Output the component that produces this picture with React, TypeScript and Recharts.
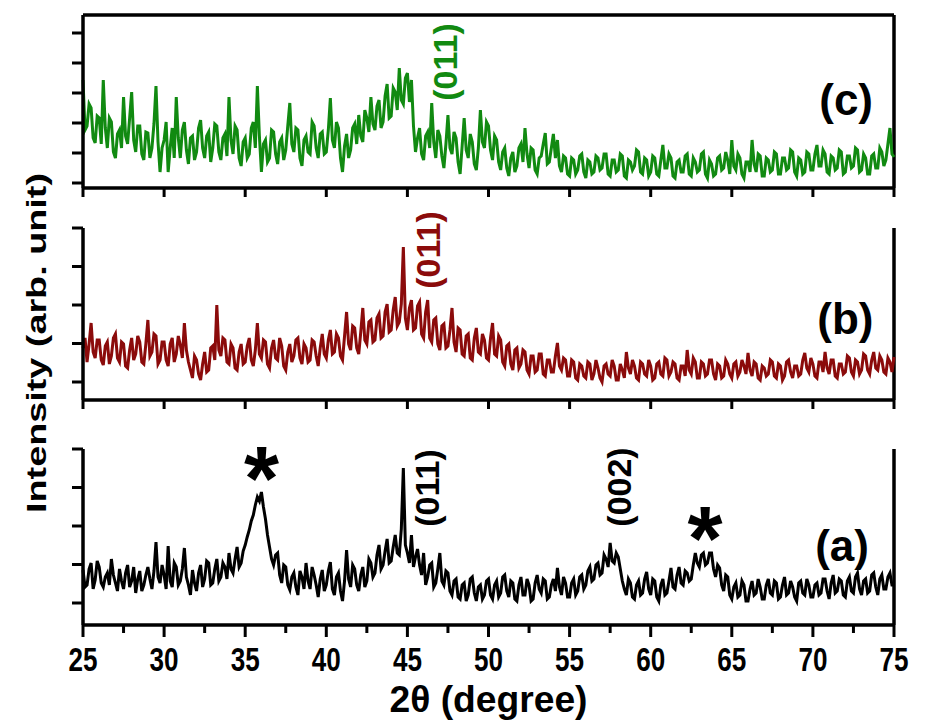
import React from "react";
import { LineChart, Line, XAxis, YAxis, ReferenceLine, ReferenceDot } from "recharts";

// XRD scan: 2θ from 25° to 75°, 0.125° step (40 points per 5° row)
const scanStart = 25;
const scanStep = 0.125;

// (a) black
const seriesA = [
  55, 38, 40, 56, 62, 36, 45, 64, 58, 42, 38, 48, 52, 40, 66, 50, 42, 34, 56, 44, 36, 52, 60, 38, 44, 58, 32, 46, 54, 34, 40, 50, 58, 46, 36, 54, 83, 48, 42, 60,
  50, 36, 79, 44, 38, 62, 58, 40, 44, 56, 77, 48, 40, 30, 55, 42, 34, 52, 60, 38, 46, 64, 62, 40, 42, 56, 66, 44, 48, 62, 58, 46, 72, 56, 52, 66, 78, 58, 62, 74,
  80, 88, 95, 104, 110, 120, 128, 124, 133, 118, 106, 90, 78, 66, 60, 70, 72, 50, 42, 60, 58, 40, 35, 48, 52, 38, 30, 54, 48, 36, 62, 44, 36, 58, 50, 40, 28, 46, 55, 34,
  40, 54, 63, 36, 30, 48, 52, 34, 24, 44, 75, 46, 38, 60, 56, 40, 34, 50, 58, 38, 44, 66, 62, 48, 52, 70, 80, 56, 60, 74, 86, 62, 64, 78, 90, 72, 70, 96, 157, 80,
  72, 62, 90, 58, 68, 76, 60, 50, 72, 40, 48, 60, 62, 38, 42, 56, 72, 44, 40, 54, 52, 34, 30, 44, 46, 28, 26, 40, 42, 24, 30, 46, 48, 32, 24, 38, 40, 26, 30, 44,
  46, 30, 26, 40, 44, 28, 32, 48, 50, 34, 28, 44, 42, 26, 24, 40, 48, 30, 30, 46, 40, 24, 26, 42, 50, 36, 32, 46, 44, 26, 28, 40, 46, 34, 57, 38, 30, 48, 42, 28,
  28, 42, 46, 30, 34, 48, 50, 36, 40, 54, 58, 44, 46, 60, 62, 50, 52, 70, 66, 58, 82, 64, 62, 72, 68, 56, 44, 36, 30, 46, 42, 28, 26, 40, 44, 30, 32, 46, 53, 36,
  30, 46, 44, 28, 24, 40, 46, 30, 32, 44, 57, 38, 36, 50, 58, 42, 40, 54, 52, 44, 46, 60, 72, 62, 58, 70, 72, 60, 62, 72, 72, 56, 48, 60, 57, 40, 34, 50, 48, 30,
  26, 38, 42, 28, 30, 44, 40, 24, 24, 36, 44, 30, 32, 46, 38, 26, 26, 40, 46, 32, 30, 44, 42, 26, 28, 40, 48, 30, 32, 44, 38, 28, 24, 42, 44, 32, 30, 46, 40, 28,
  28, 40, 42, 30, 32, 46, 46, 34, 26, 42, 50, 32, 34, 46, 44, 30, 28, 44, 48, 34, 32, 48, 52, 36, 30, 44, 46, 32, 34, 50, 52, 38, 30, 46, 50, 36, 36, 48, 52, 40,
  40,
];

// (b) dark red
const seriesB = [
  52, 62, 38, 56, 77, 48, 42, 60, 60, 40, 35, 54, 58, 36, 44, 62, 66, 42, 38, 58, 56, 34, 32, 50, 62, 40, 46, 64, 58, 38, 36, 56, 80, 44, 48, 66, 64, 36, 40, 58,
  58, 40, 34, 56, 62, 38, 46, 64, 55, 42, 77, 50, 38, 30, 22, 44, 40, 26, 20, 36, 48, 28, 30, 52, 54, 40, 95, 50, 44, 62, 60, 38, 36, 56, 52, 32, 30, 48, 56, 36,
  38, 54, 62, 40, 34, 50, 77, 46, 42, 60, 58, 36, 32, 52, 60, 42, 40, 62, 54, 34, 30, 48, 56, 38, 44, 60, 62, 42, 36, 56, 52, 38, 40, 60, 58, 44, 34, 52, 66, 46,
  42, 60, 70, 46, 48, 66, 62, 44, 40, 64, 88, 56, 50, 74, 72, 52, 46, 68, 92, 60, 56, 78, 80, 58, 60, 82, 86, 62, 64, 88, 96, 68, 70, 90, 103, 74, 78, 96, 153, 82,
  70, 92, 100, 70, 72, 94, 98, 66, 62, 88, 100, 62, 58, 80, 82, 56, 50, 74, 76, 52, 54, 70, 92, 58, 48, 72, 70, 46, 44, 64, 66, 42, 40, 62, 72, 48, 46, 66, 60, 42,
  40, 62, 77, 46, 44, 64, 60, 38, 34, 54, 56, 36, 30, 50, 52, 32, 36, 50, 48, 30, 26, 44, 44, 28, 30, 46, 46, 26, 24, 40, 40, 28, 28, 44, 57, 34, 30, 42, 40, 24,
  24, 40, 38, 22, 20, 36, 34, 24, 22, 38, 36, 20, 26, 40, 32, 22, 18, 34, 36, 26, 24, 40, 34, 20, 20, 36, 30, 22, 48, 32, 26, 40, 34, 22, 20, 38, 36, 26, 24, 40,
  34, 20, 22, 36, 38, 26, 24, 42, 40, 24, 28, 38, 36, 22, 20, 34, 34, 24, 50, 30, 26, 42, 38, 22, 22, 38, 36, 24, 26, 40, 40, 26, 20, 36, 34, 22, 24, 40, 36, 26,
  22, 36, 38, 24, 28, 40, 34, 26, 47, 30, 24, 38, 36, 22, 20, 34, 32, 24, 26, 40, 38, 24, 22, 36, 34, 20, 24, 38, 40, 28, 22, 34, 34, 24, 26, 40, 47, 32, 28, 42,
  36, 24, 22, 38, 38, 28, 48, 32, 26, 40, 40, 24, 22, 36, 36, 26, 28, 44, 42, 28, 24, 40, 38, 26, 30, 46, 44, 30, 26, 40, 48, 32, 30, 44, 40, 28, 26, 42, 38, 28,
  43,
];

// (c) green
const seriesC = [
  108, 58, 62, 84, 80, 50, 45, 72, 70, 44, 108, 60, 40, 70, 66, 36, 30, 54, 58, 40, 91, 52, 44, 70, 96, 48, 36, 62, 62, 34, 28, 56, 55, 30, 40, 64, 102, 46, 16, 40,
  48, 66, 16, 40, 60, 30, 91, 50, 30, 58, 66, 38, 24, 50, 52, 28, 36, 60, 68, 40, 30, 52, 56, 26, 40, 64, 62, 36, 28, 50, 54, 32, 91, 48, 34, 62, 58, 30, 22, 46,
  50, 30, 34, 60, 66, 40, 102, 52, 16, 44, 48, 26, 30, 58, 56, 34, 24, 46, 50, 28, 38, 62, 85, 44, 36, 60, 58, 30, 22, 48, 52, 36, 34, 66, 62, 40, 30, 54, 56, 34,
  36, 58, 90, 48, 40, 66, 60, 30, 16, 42, 54, 30, 38, 60, 64, 44, 73, 52, 46, 78, 70, 56, 91, 64, 58, 82, 88, 60, 66, 92, 104, 70, 72, 100, 96, 78, 120, 88, 84, 110,
  115, 86, 108, 62, 36, 50, 60, 34, 28, 52, 56, 40, 85, 46, 30, 58, 52, 32, 20, 44, 73, 40, 34, 56, 50, 26, 14, 42, 70, 38, 30, 54, 46, 24, 18, 40, 78, 46, 40, 66,
  62, 38, 28, 52, 48, 26, 18, 36, 40, 20, 12, 30, 36, 16, 22, 40, 44, 26, 60, 34, 20, 40, 38, 18, 14, 30, 32, 44, 55, 24, 26, 40, 54, 30, 48, 22, 16, 32, 30, 14,
  12, 30, 28, 14, 18, 32, 34, 16, 10, 28, 26, 14, 16, 32, 30, 18, 20, 34, 34, 14, 12, 28, 28, 16, 18, 34, 32, 12, 10, 28, 26, 18, 22, 38, 36, 16, 14, 30, 28, 12,
  16, 32, 30, 14, 12, 28, 43, 20, 20, 34, 30, 12, 10, 26, 28, 16, 16, 32, 34, 14, 12, 30, 26, 16, 18, 34, 36, 14, 10, 28, 24, 12, 14, 30, 32, 18, 20, 36, 28, 14,
  48, 22, 18, 34, 30, 14, 10, 26, 26, 16, 48, 24, 16, 34, 32, 12, 12, 30, 28, 16, 18, 36, 34, 14, 14, 30, 30, 18, 20, 38, 36, 16, 12, 30, 28, 14, 16, 36, 34, 18,
  18, 34, 43, 22, 22, 38, 34, 16, 14, 32, 30, 18, 20, 38, 36, 14, 16, 32, 32, 20, 22, 40, 38, 16, 18, 34, 30, 14, 14, 32, 34, 20, 20, 40, 36, 22, 28, 44, 60, 34,
  31,
];

const majorTicks = [25, 30, 35, 40, 45, 50, 55, 60, 65, 70, 75];
const bottomTicks = [25, 27.5, 30, 32.5, 35, 37.5, 40, 42.5, 45, 47.5, 50, 52.5, 55, 57.5, 60, 62.5, 65, 67.5, 70, 72.5, 75];
const yTicksA = [22, 60.5, 99, 137.5, 176];
const yTicksB = [18, 56.5, 95, 133.5, 172];
const yTicksC = [5, 35, 65, 95, 125, 155];

const peaksA = [
  { t: 46.2, v: 137, text: "(011)" },
  { t: 58.05, v: 138, text: "(002)" },
];
const starsA = [
  { t: 36.0, v: 157 },
  { t: 63.35, v: 97 },
];
const peaksB = [{ t: 46.3, v: 150, text: "(011)" }];
const peaksC = [{ t: 47.3, v: 126, text: "(011)" }];

const BLACK = "#000000";
const RED = "#8b0b0b";
const GREEN = "#118a11";
const FONT = "'Liberation Sans', Arial, sans-serif";

const data = seriesA.map((a, i) => ({
  t: scanStart + i * scanStep,
  a,
  b: seriesB[i],
  c: seriesC[i],
}));

const axisLine = { stroke: BLACK, strokeWidth: 3.5 };
const tickLine = { stroke: BLACK, strokeWidth: 3 };
const NoLabel = () => <g />;

const VText = ({ cx, cy, text, color }: any) => (
  <text
    x={cx}
    y={cy}
    transform={`rotate(-90 ${cx} ${cy})`}
    textAnchor="middle"
    dominantBaseline="central"
    fontFamily={FONT}
    fontWeight={700}
    fontSize={34}
    fill={color}
  >
    {text}
  </text>
);

const Star = ({ cx, cy }: any) => (
  <text x={cx} y={cy + 42} textAnchor="middle" fontFamily={FONT} fontWeight={700} fontSize={90} fill={BLACK}>
    *
  </text>
);

const PanelTag = ({ cx, cy, text }: any) => (
  <text x={cx} y={cy} textAnchor="middle" dominantBaseline="central" fontFamily={FONT} fontWeight={700} fontSize={44} fill={BLACK}>
    {text}
  </text>
);

const BottomTick = ({ x, y, payload }: any) => {
  const major = payload.value % 5 === 0;
  return (
    <g>
      <line x1={x} x2={x} y1={y} y2={y + (major ? 12 : 8)} stroke={BLACK} strokeWidth={3} />
      {major && (
        <text x={x} y={y + 46} textAnchor="middle" fontFamily={FONT} fontWeight={700} fontSize={34} textLength={29} lengthAdjust="spacingAndGlyphs" fill={BLACK}>
          {payload.value}
        </text>
      )}
    </g>
  );
};

const XTitle = ({ viewBox }: any) => (
  <text
    x={viewBox.x + viewBox.width / 2}
    y={viewBox.y + 87}
    textAnchor="middle"
    fontFamily={FONT}
    fontWeight={700}
    fontSize={36}
    textLength={198}
    lengthAdjust="spacingAndGlyphs"
    fill={BLACK}
  >
    2θ (degree)
  </text>
);

const App = () => (
  <div style={{ position: "absolute", left: 0, top: 0, width: 926, height: 726, background: "#fff" }}>
    {/* (c) */}
    <div style={{ position: "absolute", left: 0, top: 0 }}>
      <LineChart width={926} height={200} data={data} margin={{ top: 15, right: 32, bottom: 0, left: 63 }}>
        <XAxis dataKey="t" type="number" domain={[25, 75]} ticks={majorTicks} interval={0} height={12} tick={NoLabel} tickSize={9} axisLine={axisLine} tickLine={tickLine} />
        <YAxis type="number" domain={[0, 173]} ticks={yTicksC} interval={0} width={20} tick={NoLabel} tickSize={11} axisLine={axisLine} tickLine={tickLine} />
        <ReferenceLine y={173} stroke={BLACK} strokeWidth={3.5} />
        <ReferenceLine x={75} stroke={BLACK} strokeWidth={3.5} />
        <Line dataKey="c" type="linear" stroke={GREEN} strokeWidth={3} dot={false} activeDot={false} isAnimationActive={false} />
        {peaksC.map((p) => (
          <ReferenceDot key={p.text} x={p.t} y={p.v} r={0} shape={(s: any) => <VText cx={s.cx} cy={s.cy} text={p.text} color={GREEN} />} />
        ))}
        <ReferenceDot x={72.05} y={89} r={0} shape={(s: any) => <PanelTag cx={s.cx} cy={s.cy} text="(c)" />} />
      </LineChart>
    </div>

    {/* (b) */}
    <div style={{ position: "absolute", left: 0, top: 200 }}>
      <LineChart width={926} height={212} data={data} margin={{ top: 28, right: 32, bottom: 0, left: 63 }}>
        <XAxis dataKey="t" type="number" domain={[25, 75]} ticks={majorTicks} interval={0} height={12} tick={NoLabel} tickSize={9} axisLine={axisLine} tickLine={tickLine} />
        <YAxis type="number" domain={[0, 172]} ticks={yTicksB} interval={0} width={20} tick={NoLabel} tickSize={11} axisLine={axisLine} tickLine={tickLine} />
        <ReferenceLine x={75} stroke={BLACK} strokeWidth={3.5} />
        <Line dataKey="b" type="linear" stroke={RED} strokeWidth={3} dot={false} activeDot={false} isAnimationActive={false} />
        {peaksB.map((p) => (
          <ReferenceDot key={p.text} x={p.t} y={p.v} r={0} shape={(s: any) => <VText cx={s.cx} cy={s.cy} text={p.text} color={RED} />} />
        ))}
        <ReferenceDot x={72.0} y={82} r={0} shape={(s: any) => <PanelTag cx={s.cx} cy={s.cy} text="(b)" />} />
      </LineChart>
    </div>

    {/* (a) */}
    <div style={{ position: "absolute", left: 0, top: 412 }}>
      <LineChart width={926} height={314} data={data} margin={{ top: 37, right: 32, bottom: 1, left: 63 }}>
        <XAxis
          dataKey="t"
          type="number"
          domain={[25, 75]}
          ticks={bottomTicks}
          interval={0}
          height={100}
          tickSize={0}
          tickMargin={0}
          tickLine={false}
          tick={<BottomTick />}
          axisLine={axisLine}
          label={{ content: (p: any) => <XTitle viewBox={p.viewBox} /> }}
        />
        <YAxis type="number" domain={[0, 176]} ticks={yTicksA} interval={0} width={20} tick={NoLabel} tickSize={11} axisLine={axisLine} tickLine={tickLine} />
        <ReferenceLine x={75} stroke={BLACK} strokeWidth={3.5} />
        <Line dataKey="a" type="linear" stroke={BLACK} strokeWidth={3} dot={false} activeDot={false} isAnimationActive={false} />
        {peaksA.map((p) => (
          <ReferenceDot key={p.text} x={p.t} y={p.v} r={0} shape={(s: any) => <VText cx={s.cx} cy={s.cy} text={p.text} color={BLACK} />} />
        ))}
        {starsA.map((s, i) => (
          <ReferenceDot key={i} x={s.t} y={s.v} r={0} shape={(d: any) => <Star cx={d.cx} cy={d.cy} />} />
        ))}
        <ReferenceDot x={71.8} y={80} r={0} shape={(s: any) => <PanelTag cx={s.cx} cy={s.cy} text="(a)" />} />
      </LineChart>
    </div>

    {/* shared y-axis title */}
    <svg width={926} height={726} style={{ position: "absolute", left: 0, top: 0, pointerEvents: "none" }}>
      <text
        x={0}
        y={0}
        transform="translate(37 343) rotate(-90)"
        textAnchor="middle"
        dominantBaseline="central"
        fontFamily={FONT}
        fontWeight={700}
        fontSize={27}
        textLength={340}
        lengthAdjust="spacingAndGlyphs"
        fill={BLACK}
      >
        Intensity (arb. unit)
      </text>
    </svg>
  </div>
);

export default App;
